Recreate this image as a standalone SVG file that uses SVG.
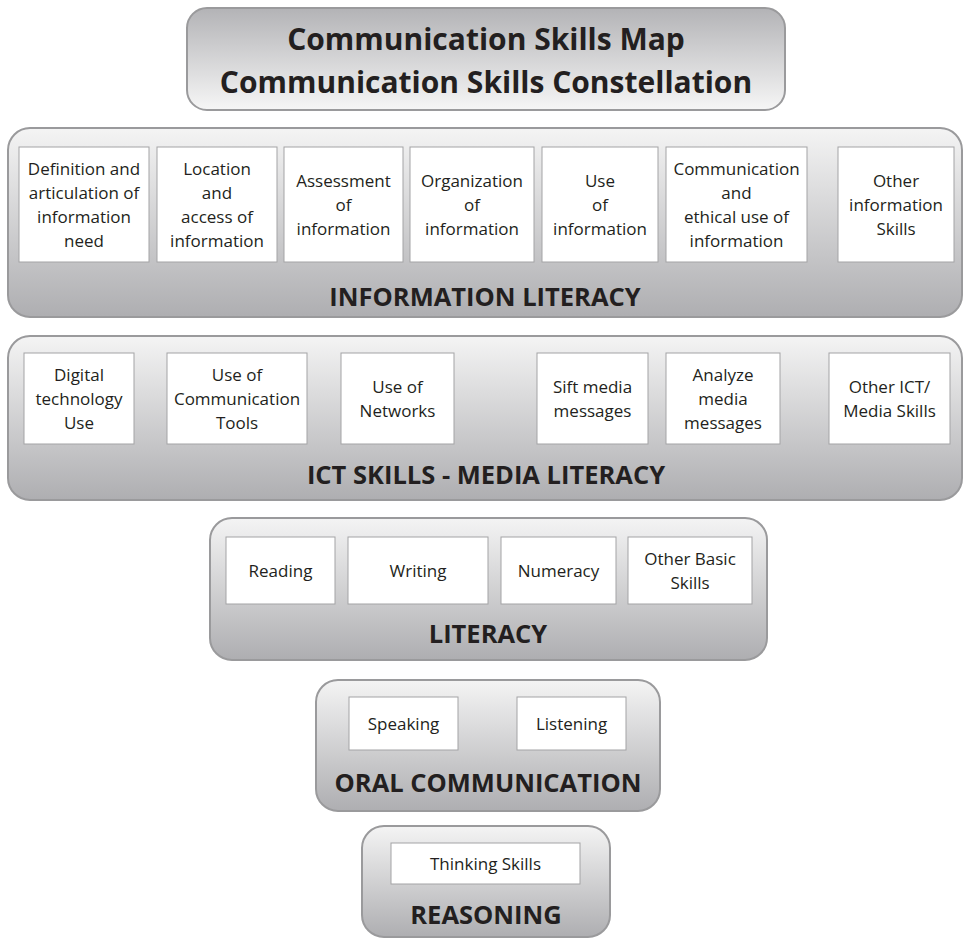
<svg xmlns="http://www.w3.org/2000/svg" width="963" height="939" viewBox="0 0 963 939">
<defs>
<linearGradient id="gLayer" x1="0" y1="0" x2="0" y2="1">
<stop offset="0" stop-color="#f4f4f4"/>
<stop offset="1" stop-color="#aeaeb1"/>
</linearGradient>
<linearGradient id="gTitle" x1="0" y1="0" x2="0" y2="1">
<stop offset="0" stop-color="#b3b3b6"/>
<stop offset="1" stop-color="#f6f6f6"/>
</linearGradient>
</defs>
<style>
.layer{fill:url(#gLayer);stroke:#9a9a9c;stroke-width:2}
.title{fill:url(#gTitle);stroke:#9a9a9c;stroke-width:2}
.box{fill:#ffffff;stroke:#a3a3a5;stroke-width:1}
.t{font-family:"Open Sans","Noto Sans","Liberation Sans",sans-serif;font-size:17px;fill:#231f20;text-anchor:middle}
.lbl{font-family:"Open Sans","Noto Sans","Liberation Sans",sans-serif;font-size:25.5px;font-weight:bold;fill:#231f20;text-anchor:middle}
.ttl{font-family:"Open Sans","Noto Sans","Liberation Sans",sans-serif;font-size:30px;font-weight:bold;fill:#231f20;text-anchor:middle}
</style>
<rect width="963" height="939" fill="#ffffff"/>

<g id="title">
<rect class="title" x="187" y="8" width="598" height="102" rx="20"/>
<text class="ttl" x="486" y="50">Communication Skills Map</text>
<text class="ttl" x="486" y="93">Communication Skills Constellation</text>
</g>

<g id="information-literacy">
<rect class="layer" x="8" y="128" width="954" height="189" rx="22"/>
<text class="lbl" x="485" y="306">INFORMATION LITERACY</text>
</g>
<g id="il-definition">
<rect class="box" x="19" y="147" width="130" height="115"/>
<text class="t" x="84" y="175">Definition and</text>
<text class="t" x="84" y="199">articulation of</text>
<text class="t" x="84" y="223">information</text>
<text class="t" x="84" y="247">need</text>
</g>
<g id="il-location">
<rect class="box" x="157" y="147" width="120" height="115"/>
<text class="t" x="217" y="175">Location</text>
<text class="t" x="217" y="199">and</text>
<text class="t" x="217" y="223">access of</text>
<text class="t" x="217" y="247">information</text>
</g>
<g id="il-assessment">
<rect class="box" x="284" y="147" width="119" height="115"/>
<text class="t" x="343.5" y="187">Assessment</text>
<text class="t" x="343.5" y="211">of</text>
<text class="t" x="343.5" y="235">information</text>
</g>
<g id="il-organization">
<rect class="box" x="410" y="147" width="124" height="115"/>
<text class="t" x="472" y="187">Organization</text>
<text class="t" x="472" y="211">of</text>
<text class="t" x="472" y="235">information</text>
</g>
<g id="il-use">
<rect class="box" x="542" y="147" width="116" height="115"/>
<text class="t" x="600" y="187">Use</text>
<text class="t" x="600" y="211">of</text>
<text class="t" x="600" y="235">information</text>
</g>
<g id="il-communication">
<rect class="box" x="666" y="147" width="141" height="115"/>
<text class="t" x="736.5" y="175">Communication</text>
<text class="t" x="736.5" y="199">and</text>
<text class="t" x="736.5" y="223">ethical use of</text>
<text class="t" x="736.5" y="247">information</text>
</g>
<g id="il-other">
<rect class="box" x="838" y="147" width="116" height="115"/>
<text class="t" x="896" y="187">Other</text>
<text class="t" x="896" y="211">information</text>
<text class="t" x="896" y="235">Skills</text>
</g>

<g id="ict-media-literacy">
<rect class="layer" x="8" y="336" width="954" height="164" rx="22"/>
<text class="lbl" x="486" y="484">ICT SKILLS - MEDIA LITERACY</text>
</g>
<g id="ict-digital">
<rect class="box" x="24" y="353" width="110" height="91"/>
<text class="t" x="79" y="381">Digital</text>
<text class="t" x="79" y="405">technology</text>
<text class="t" x="79" y="429">Use</text>
</g>
<g id="ict-comm-tools">
<rect class="box" x="167" y="353" width="140" height="91"/>
<text class="t" x="237" y="381">Use of</text>
<text class="t" x="237" y="405">Communication</text>
<text class="t" x="237" y="429">Tools</text>
</g>
<g id="ict-networks">
<rect class="box" x="341" y="353" width="113" height="91"/>
<text class="t" x="397.5" y="393">Use of</text>
<text class="t" x="397.5" y="417">Networks</text>
</g>
<g id="ict-sift">
<rect class="box" x="537" y="353" width="111" height="91"/>
<text class="t" x="592.5" y="393">Sift media</text>
<text class="t" x="592.5" y="417">messages</text>
</g>
<g id="ict-analyze">
<rect class="box" x="666" y="353" width="114" height="91"/>
<text class="t" x="723" y="381">Analyze</text>
<text class="t" x="723" y="405">media</text>
<text class="t" x="723" y="429">messages</text>
</g>
<g id="ict-other">
<rect class="box" x="829" y="353" width="121" height="91"/>
<text class="t" x="889.5" y="393">Other ICT/</text>
<text class="t" x="889.5" y="417">Media Skills</text>
</g>

<g id="literacy">
<rect class="layer" x="210" y="518" width="557" height="142" rx="22"/>
<text class="lbl" x="488" y="643">LITERACY</text>
</g>
<g id="lit-reading">
<rect class="box" x="226" y="537" width="109" height="67"/>
<text class="t" x="280.5" y="577">Reading</text>
</g>
<g id="lit-writing">
<rect class="box" x="348" y="537" width="140" height="67"/>
<text class="t" x="418" y="577">Writing</text>
</g>
<g id="lit-numeracy">
<rect class="box" x="501" y="537" width="115" height="67"/>
<text class="t" x="558.5" y="577">Numeracy</text>
</g>
<g id="lit-other">
<rect class="box" x="628" y="537" width="124" height="67"/>
<text class="t" x="690" y="565">Other Basic</text>
<text class="t" x="690" y="589">Skills</text>
</g>

<g id="oral-communication">
<rect class="layer" x="316" y="680" width="344" height="131" rx="22"/>
<text class="lbl" x="488" y="792">ORAL COMMUNICATION</text>
</g>
<g id="oral-speaking">
<rect class="box" x="349" y="697" width="109" height="53"/>
<text class="t" x="403.5" y="730">Speaking</text>
</g>
<g id="oral-listening">
<rect class="box" x="517" y="697" width="109" height="53"/>
<text class="t" x="571.5" y="730">Listening</text>
</g>

<g id="reasoning">
<rect class="layer" x="362" y="826" width="248" height="111" rx="22"/>
<text class="lbl" x="486" y="924">REASONING</text>
</g>
<g id="reason-thinking">
<rect class="box" x="391" y="843" width="189" height="41"/>
<text class="t" x="485.5" y="870">Thinking Skills</text>
</g>

<g id="connectors"/>
</svg>
